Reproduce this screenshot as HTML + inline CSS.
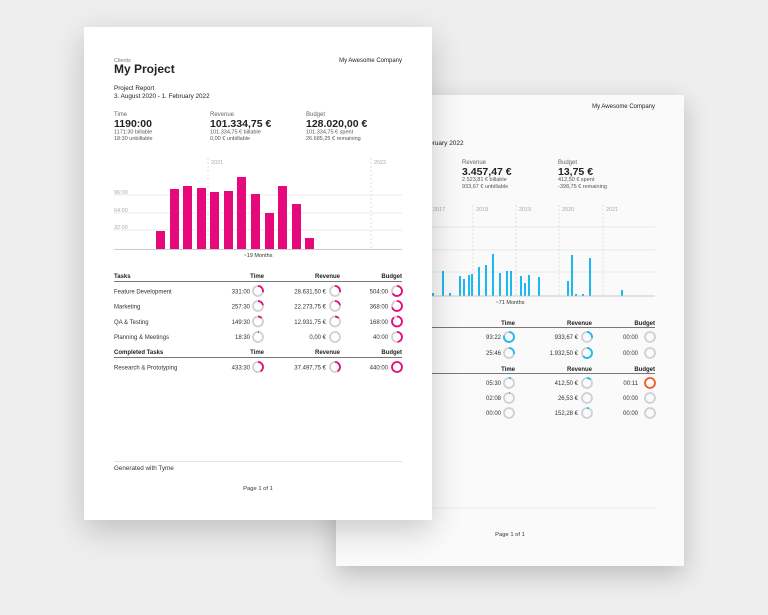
<!DOCTYPE html>
<html><head><meta charset="utf-8"><style>
html,body{margin:0;padding:0;width:768px;height:615px;overflow:hidden;background:#eeeeee;}
.pg{position:absolute;}
svg{position:absolute;left:0;top:0;}
text{font-family:"Liberation Sans",sans-serif;}
</style></head><body>
<div class="pg" style="left:336px;top:95px;width:348px;height:471px;background:#fafafa;box-shadow:0 8px 24px rgba(0,0,0,0.22);"></div>
<svg width="768" height="615" viewBox="0 0 768 615">
<g font-size="6" fill="#222">
<text x="655" y="108" text-anchor="end">My Awesome Company</text>
<text x="365" y="145" font-size="6.5">3. August 2016 - 1. February 2022</text>
<text x="462" y="164" fill="#666">Revenue</text>
<text x="462" y="175" font-size="10.5" font-weight="bold">3.457,47 €</text>
<text x="462" y="181" fill="#555" font-size="5.5">2.523,81 € billable</text>
<text x="462" y="188" fill="#555" font-size="5.5">933,67 € unbillable</text>
<text x="558" y="164" fill="#666">Budget</text>
<text x="558" y="175" font-size="10.5" font-weight="bold">13,75 €</text>
<text x="558" y="181" fill="#555" font-size="5.5">412,50 € spent</text>
<text x="558" y="188" fill="#555" font-size="5.5">-398,75 € remaining</text>
<g fill="#aaa" font-size="5.5"><text x="433" y="211">2017</text><text x="476" y="211">2018</text><text x="519" y="211">2019</text><text x="562" y="211">2020</text><text x="606" y="211">2021</text></g>
<g stroke="#ccc" stroke-width="0.6" stroke-dasharray="2,2"><line x1="473" y1="205" x2="473" y2="296"/><line x1="516" y1="205" x2="516" y2="296"/><line x1="559" y1="205" x2="559" y2="296"/><line x1="603" y1="205" x2="603" y2="296"/></g>
<g stroke="#e2e2e2" stroke-width="0.7"><line x1="365" y1="227" x2="655" y2="227"/><line x1="365" y1="250" x2="655" y2="250"/><line x1="365" y1="272" x2="655" y2="272"/></g>
<g fill="#1cb8ee">
<rect x="432" y="293" width="2" height="3"/><rect x="442" y="271" width="2" height="25"/><rect x="449" y="293" width="2" height="3"/><rect x="459" y="276" width="2" height="20"/><rect x="463" y="279" width="2" height="17"/><rect x="468" y="275" width="2" height="21"/><rect x="471" y="274" width="2" height="22"/><rect x="478" y="267" width="2" height="29"/><rect x="485" y="265" width="2" height="31"/><rect x="492" y="254" width="2" height="42"/><rect x="499" y="273" width="2" height="23"/><rect x="506" y="271" width="2" height="25"/><rect x="510" y="271" width="2" height="25"/><rect x="520" y="276" width="2" height="20"/><rect x="524" y="283" width="2" height="13"/><rect x="528" y="275" width="2" height="21"/><rect x="538" y="277" width="2" height="19"/><rect x="567" y="281" width="2" height="15"/><rect x="571" y="255" width="2" height="41"/><rect x="575" y="294" width="2" height="2"/><rect x="582" y="294" width="2" height="2"/><rect x="589" y="258" width="2" height="38"/><rect x="621" y="290" width="2" height="6"/>
</g>
<line x1="365" y1="296" x2="655" y2="296" stroke="#bbb" stroke-width="0.8"/>
<text x="510" y="304" text-anchor="middle" fill="#333" font-size="5.5">~71 Months</text>
<g font-weight="bold" text-anchor="end"><text x="515" y="325">Time</text><text x="592" y="325">Revenue</text><text x="655" y="325">Budget</text>
<text x="515" y="371">Time</text><text x="592" y="371">Revenue</text><text x="655" y="371">Budget</text></g>
<line x1="365" y1="327.5" x2="655" y2="327.5" stroke="#777" stroke-width="1"/>
<line x1="365" y1="373.5" x2="655" y2="373.5" stroke="#777" stroke-width="1"/>
<g text-anchor="end" fill="#333">
<text x="501" y="339">93:22</text><text x="578" y="339">933,67 €</text><text x="638" y="339">00:00</text>
<text x="501" y="355">25:46</text><text x="578" y="355">1.932,50 €</text><text x="638" y="355">00:00</text>
<text x="501" y="385">05:30</text><text x="578" y="385">412,50 €</text><text x="638" y="385">00:11</text>
<text x="501" y="400">02:08</text><text x="578" y="400">26,53 €</text><text x="638" y="400">00:00</text>
<text x="501" y="415">00:00</text><text x="578" y="415">152,28 €</text><text x="638" y="415">00:00</text>
</g>
</g>
<g fill="none" stroke-width="1.8">
<g stroke="#d0d0d0">
<circle cx="509" cy="337" r="5"/><circle cx="587" cy="337" r="5"/><circle cx="650" cy="337" r="5"/>
<circle cx="509" cy="353" r="5"/><circle cx="587" cy="353" r="5"/><circle cx="650" cy="353" r="5"/>
<circle cx="509" cy="383" r="5"/><circle cx="587" cy="383" r="5"/>
<circle cx="509" cy="398" r="5"/><circle cx="587" cy="398" r="5"/><circle cx="650" cy="398" r="5"/>
<circle cx="509" cy="413" r="5"/><circle cx="587" cy="413" r="5"/><circle cx="650" cy="413" r="5"/>
</g>
<g stroke="#1cb8ee">
<circle cx="509" cy="337" r="5" stroke-dasharray="25 100" transform="rotate(-90 509 337)"/>
<circle cx="587" cy="337" r="5" stroke-dasharray="9 100" transform="rotate(-90 587 337)"/>
<circle cx="509" cy="353" r="5" stroke-dasharray="9 100" transform="rotate(-90 509 353)"/>
<circle cx="587" cy="353" r="5" stroke-dasharray="20 100" transform="rotate(-90 587 353)"/>
<circle cx="509" cy="383" r="5" stroke-dasharray="2 100" transform="rotate(-90 509 383)"/>
<circle cx="587" cy="383" r="5" stroke-dasharray="4 100" transform="rotate(-90 587 383)"/>
<circle cx="509" cy="398" r="5" stroke-dasharray="1 100" transform="rotate(-90 509 398)"/>
<circle cx="587" cy="413" r="5" stroke-dasharray="2 100" transform="rotate(-90 587 413)"/>
</g>
<circle cx="650" cy="383" r="5" stroke="#f05a22"/>
</g>
<line x1="365" y1="508" x2="655" y2="508" stroke="#e4e4e4" stroke-width="0.8"/>
<text x="510" y="536" text-anchor="middle" font-size="5.8" fill="#333">Page 1 of 1</text>
</svg>

<div class="pg" style="left:84px;top:27px;width:348px;height:493px;background:#fff;box-shadow:0 10px 30px rgba(0,0,0,0.2);"></div>
<svg width="768" height="615" viewBox="0 0 768 615">
<g font-size="6" fill="#222">
<text x="114" y="62" fill="#777" font-size="5.5">Clients</text>
<text x="114" y="73" font-size="12" font-weight="bold">My Project</text>
<text x="402" y="62" text-anchor="end">My Awesome Company</text>
<text x="114" y="90" font-size="6.3">Project Report</text>
<text x="114" y="98" font-size="6.3">3. August 2020 - 1. February 2022</text>
<text x="114" y="116" fill="#666">Time</text>
<text x="114" y="127" font-size="10.5" font-weight="bold">1190:00</text>
<text x="114" y="133.5" fill="#555" font-size="5.5">1171:30 billable</text>
<text x="114" y="140" fill="#555" font-size="5.5">18:30 unbillable</text>
<text x="210" y="116" fill="#666">Revenue</text>
<text x="210" y="127" font-size="10.5" font-weight="bold">101.334,75 €</text>
<text x="210" y="133.5" fill="#555" font-size="5.5">101.334,75 € billable</text>
<text x="210" y="140" fill="#555" font-size="5.5">0,00 € unbillable</text>
<text x="306" y="116" fill="#666">Budget</text>
<text x="306" y="127" font-size="10.5" font-weight="bold">128.020,00 €</text>
<text x="306" y="133.5" fill="#555" font-size="5.5">101.334,75 € spent</text>
<text x="306" y="140" fill="#555" font-size="5.5">26.685,25 € remaining</text>
<g fill="#aaa" font-size="5.5"><text x="211" y="164">2021</text><text x="374" y="164">2022</text>
<text x="114" y="194">96:00</text><text x="114" y="212">64:00</text><text x="114" y="229">32:00</text></g>
<g stroke="#ccc" stroke-width="0.6" stroke-dasharray="2,2"><line x1="208" y1="158" x2="208" y2="249"/><line x1="371" y1="158" x2="371" y2="249"/></g>
<g stroke="#e4e4e4" stroke-width="0.7"><line x1="114" y1="195" x2="402" y2="195"/><line x1="114" y1="213" x2="402" y2="213"/><line x1="114" y1="230" x2="402" y2="230"/></g>
<g fill="#e5097b">
<rect x="156" y="231" width="9" height="18"/><rect x="170" y="189" width="9" height="60"/><rect x="183" y="186" width="9" height="63"/><rect x="197" y="188" width="9" height="61"/><rect x="210" y="192" width="9" height="57"/><rect x="224" y="191" width="9" height="58"/><rect x="237" y="177" width="9" height="72"/><rect x="251" y="194" width="9" height="55"/><rect x="265" y="213" width="9" height="36"/><rect x="278" y="186" width="9" height="63"/><rect x="292" y="204" width="9" height="45"/><rect x="305" y="238" width="9" height="11"/>
</g>
<line x1="114" y1="249.5" x2="402" y2="249.5" stroke="#bbb" stroke-width="0.8"/>
<text x="258" y="257" text-anchor="middle" fill="#333" font-size="5.5">~19 Months</text>
<g font-weight="bold"><text x="114" y="278">Tasks</text><text x="114" y="354">Completed Tasks</text></g>
<g font-weight="bold" text-anchor="end"><text x="264" y="278">Time</text><text x="340" y="278">Revenue</text><text x="402" y="278">Budget</text>
<text x="264" y="354">Time</text><text x="340" y="354">Revenue</text><text x="402" y="354">Budget</text></g>
<line x1="114" y1="281.5" x2="402" y2="281.5" stroke="#777" stroke-width="1"/>
<line x1="114" y1="357.5" x2="402" y2="357.5" stroke="#777" stroke-width="1"/>
<g fill="#333">
<text x="114" y="293.5">Feature Development</text><text x="114" y="308.5">Marketing</text><text x="114" y="324">QA &amp; Testing</text><text x="114" y="339">Planning &amp; Meetings</text><text x="114" y="369.5">Research &amp; Prototyping</text>
</g>
<g text-anchor="end" fill="#333">
<text x="250" y="293.5">331:00</text><text x="326" y="293.5">28.631,50 €</text><text x="388" y="293.5">504:00</text>
<text x="250" y="308.5">257:30</text><text x="326" y="308.5">22.273,75 €</text><text x="388" y="308.5">368:00</text>
<text x="250" y="324">149:30</text><text x="326" y="324">12.931,75 €</text><text x="388" y="324">168:00</text>
<text x="250" y="339">18:30</text><text x="326" y="339">0,00 €</text><text x="388" y="339">40:00</text>
<text x="250" y="369.5">433:30</text><text x="326" y="369.5">37.497,75 €</text><text x="388" y="369.5">440:00</text>
</g>
</g>
<g fill="none" stroke-width="1.8">
<g stroke="#d0d0d0">
<circle cx="258" cy="291" r="5"/><circle cx="335" cy="291" r="5"/><circle cx="397" cy="291" r="5"/>
<circle cx="258" cy="306" r="5"/><circle cx="335" cy="306" r="5"/><circle cx="397" cy="306" r="5"/>
<circle cx="258" cy="321.5" r="5"/><circle cx="335" cy="321.5" r="5"/><circle cx="397" cy="321.5" r="5"/>
<circle cx="258" cy="337" r="5"/><circle cx="335" cy="337" r="5"/><circle cx="397" cy="337" r="5"/>
<circle cx="258" cy="367" r="5"/><circle cx="335" cy="367" r="5"/>
</g>
<g stroke="#e5097b">
<circle cx="258" cy="291" r="5" stroke-dasharray="9 100" transform="rotate(-90 258 291)"/>
<circle cx="335" cy="291" r="5" stroke-dasharray="9 100" transform="rotate(-90 335 291)"/>
<circle cx="397" cy="291" r="5" stroke-dasharray="21 100" transform="rotate(-90 397 291)"/>
<circle cx="258" cy="306" r="5" stroke-dasharray="7 100" transform="rotate(-90 258 306)"/>
<circle cx="335" cy="306" r="5" stroke-dasharray="7 100" transform="rotate(-90 335 306)"/>
<circle cx="397" cy="306" r="5" stroke-dasharray="22 100" transform="rotate(-90 397 306)"/>
<circle cx="258" cy="321.5" r="5" stroke-dasharray="4 100" transform="rotate(-90 258 321.5)"/>
<circle cx="335" cy="321.5" r="5" stroke-dasharray="4 100" transform="rotate(-90 335 321.5)"/>
<circle cx="397" cy="321.5" r="5" stroke-dasharray="28 100" transform="rotate(-90 397 321.5)"/>
<circle cx="258" cy="337" r="5" stroke-dasharray="0.8 100" transform="rotate(-90 258 337)"/>
<circle cx="397" cy="337" r="5" stroke-dasharray="15 100" transform="rotate(-90 397 337)"/>
<circle cx="258" cy="367" r="5" stroke-dasharray="13 100" transform="rotate(-90 258 367)"/>
<circle cx="335" cy="367" r="5" stroke-dasharray="13 100" transform="rotate(-90 335 367)"/>
<circle cx="397" cy="367" r="5"/>
</g>
</g>
<line x1="114" y1="461.5" x2="402" y2="461.5" stroke="#ddd" stroke-width="0.8"/>
<text x="114" y="470" font-size="6.3" fill="#333">Generated with Tyme</text>
<text x="258" y="490" text-anchor="middle" font-size="5.8" fill="#333">Page 1 of 1</text>
</svg>
</body></html>
